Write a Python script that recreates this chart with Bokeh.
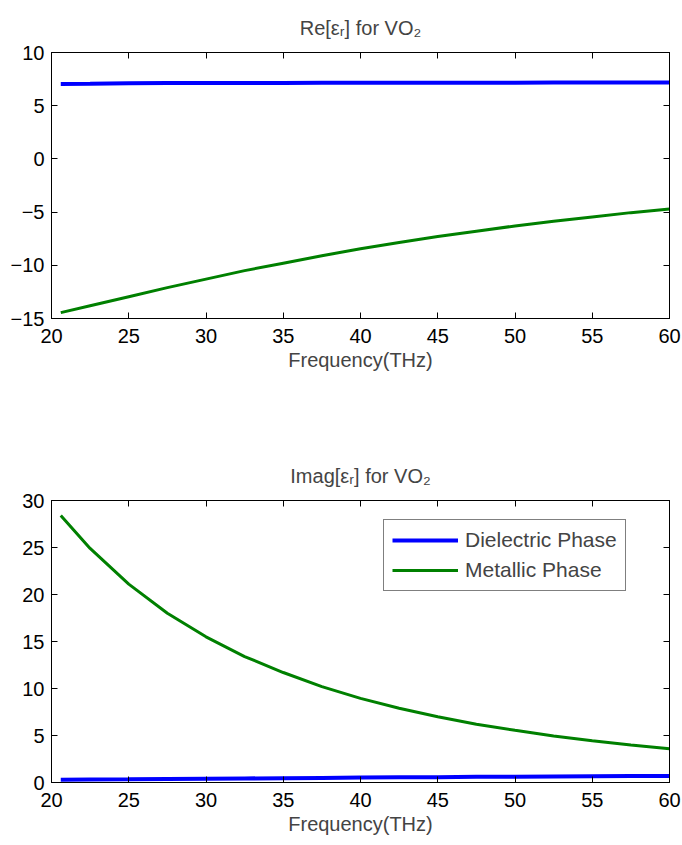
from bokeh.plotting import figure
from bokeh.models import Range1d, LinearAxis, FixedTicker, Legend, LegendItem, Title
from bokeh.layouts import column
from bokeh.embed import file_html
from bokeh.resources import INLINE

# ---- data ----
freq = [20.6, 22.5, 25, 27.5, 30, 32.5, 35, 37.5, 40, 42.5, 45, 47.5, 50, 52.5, 55, 57.5, 60]
re_dielectric = [7.05, 7.06, 7.12, 7.13, 7.13, 7.14, 7.14, 7.15, 7.15, 7.15, 7.16, 7.16, 7.16, 7.17, 7.17, 7.17, 7.18]
re_metallic = [-14.45, -13.8, -12.95, -12.1, -11.3, -10.5, -9.8, -9.1, -8.45, -7.85, -7.3, -6.8, -6.3, -5.85, -5.45, -5.05, -4.7]
im_dielectric = [0.30, 0.32, 0.34, 0.37, 0.40, 0.43, 0.46, 0.49, 0.52, 0.55, 0.57, 0.60, 0.62, 0.64, 0.66, 0.68, 0.70]
im_metallic = [28.4, 24.9, 21.1, 18.0, 15.5, 13.4, 11.7, 10.2, 8.95, 7.9, 7.0, 6.2, 5.55, 4.95, 4.45, 4.0, 3.6]

x_ticks = [20, 25, 30, 35, 40, 45, 50, 55, 60]
re_ticks = [-15, -10, -5, 0, 5, 10]
im_ticks = [0, 5, 10, 15, 20, 25, 30]

title_re = "Re[\u03b5\u1d63] for VO\u2082"
title_im = "Imag[\u03b5\u1d63] for VO\u2082"

FONT = "Liberation Sans"
FS = "20px"
BLUE = "#0000ff"
GREEN = "#008000"


def style(p, yticks, title):
    p.outline_line_color = "black"
    p.outline_line_width = 1
    p.xgrid.visible = False
    p.ygrid.visible = False
    p.background_fill_color = "white"
    p.border_fill_color = "white"
    for ax in p.xaxis:
        ax.ticker = FixedTicker(ticks=x_ticks)
    for ax in p.yaxis:
        ax.ticker = FixedTicker(ticks=yticks)
    for ax in list(p.xaxis) + list(p.yaxis):
        ax.major_tick_in = 6
        ax.major_tick_out = 0
        ax.minor_tick_line_color = None
        ax.axis_line_color = "black"
        ax.major_tick_line_color = "black"
        ax.major_label_text_font = FONT
        ax.major_label_text_font_size = FS
        ax.major_label_text_color = "black"
        ax.axis_label_text_font = FONT
        ax.axis_label_text_font_size = FS
        ax.axis_label_text_font_style = "normal"
    p.xaxis[0].major_label_standoff = 10
    p.yaxis[0].major_label_standoff = 7
    p.xaxis[0].axis_label = "Frequency(THz)"
    p.xaxis[0].axis_label_standoff = 3
    # mirrored axes (top/right): inward ticks only, labels not painted
    top = LinearAxis(ticker=FixedTicker(ticks=x_ticks), major_tick_in=6, major_tick_out=0,
                     minor_tick_line_color=None, major_label_text_font_size="1px",
                     major_label_text_color=None, major_label_standoff=0,
                     axis_line_color="black")
    right = LinearAxis(ticker=FixedTicker(ticks=yticks), major_tick_in=6, major_tick_out=0,
                       minor_tick_line_color=None, major_label_text_font_size="1px",
                       major_label_text_color=None, major_label_standoff=0,
                       axis_line_color="black")
    p.add_layout(top, "above")
    p.add_layout(right, "right")
    p.add_layout(Title(text=title, text_font=FONT, text_font_size=FS,
                       text_font_style="normal", align="center", standoff=28), "above")


common = dict(width=682, x_range=Range1d(20, 60), output_backend="svg",
              toolbar_location=None, title=None, min_border_left=51, min_border_right=13)

p1 = figure(height=420, y_range=Range1d(-15, 10),
            min_border_top=52, min_border_bottom=102, **common)
p1.line(freq, re_dielectric, line_color=BLUE, line_width=4)
p1.line(freq, re_metallic, line_color=GREEN, line_width=3)
style(p1, re_ticks, title_re)

common["x_range"] = Range1d(20, 60)
p2 = figure(height=425, y_range=Range1d(0, 30),
            min_border_top=80, min_border_bottom=63, **common)
r_d = p2.line(freq, im_dielectric, line_color=BLUE, line_width=4)
r_m = p2.line(freq, im_metallic, line_color=GREEN, line_width=3)
style(p2, im_ticks, title_im)

legend = Legend(items=[LegendItem(label="Dielectric Phase", renderers=[r_d]),
                       LegendItem(label="Metallic Phase", renderers=[r_m])],
                location=(332, 191), orientation="vertical",
                border_line_color="black", border_line_width=1,
                background_fill_color="white", background_fill_alpha=1,
                label_text_font=FONT, label_text_font_size="21px",
                glyph_width=66, glyph_height=22, label_height=22,
                label_standoff=7, padding=8, spacing=6, margin=0)
p2.add_layout(legend)

layout = column(p1, p2, spacing=0)
open("out.html", "w").write(file_html(layout, INLINE))
